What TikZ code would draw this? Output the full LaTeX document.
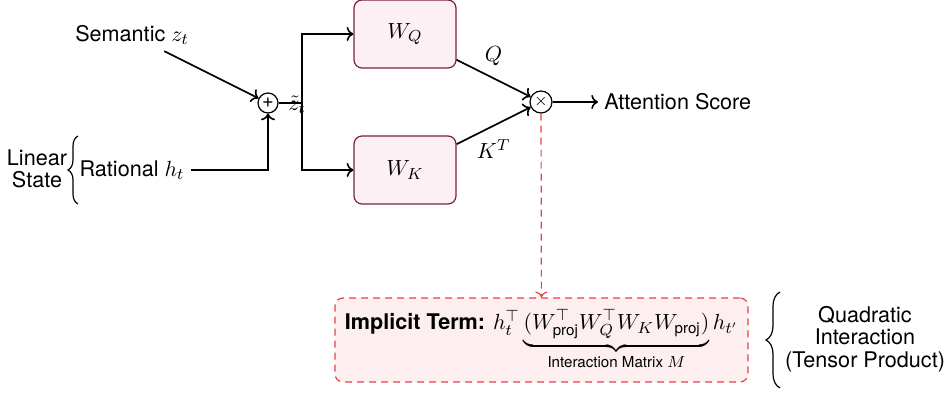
\documentclass[tikz,border=0pt]{standalone}
\usepackage{amsmath}
\usepackage[no-math]{fontspec}
\setmainfont{TeX Gyre Heros}
\usetikzlibrary{decorations.pathreplacing,arrows.meta}

\definecolor{wfill}{HTML}{FCF0F4}
\definecolor{wdraw}{HTML}{7E1E44}
\definecolor{implfill}{HTML}{FDEFEF}
\definecolor{impldraw}{HTML}{E8414A}

\tikzset{
  flow/.style={thick,->},
  wbox/.style={draw=wdraw,fill=wfill,line width=0.6pt,rounded corners=4pt,
               minimum width=51pt,minimum height=34pt,inner sep=0pt},
  opcirc/.style={draw,circle,line width=0.6pt,inner sep=0pt},
  implbox/.style={draw=impldraw,fill=implfill,line width=0.6pt,rounded corners=4pt,
                  dash pattern=on 3.5pt off 2.5pt,minimum width=206.5pt,minimum height=42pt,
                  inner sep=0pt},
  curly/.style={decorate,decoration={brace,amplitude=#1},line width=0.6pt},
  plain/.style={inner sep=3pt},
}

\begin{document}
\begin{tikzpicture}[x=0.5pt,y=-0.5pt,font=\fontsize{10.8}{11.3}\selectfont]
\useasboundingbox (0,0) rectangle (949,394);

% inputs
\node[plain] (sem) at (132,35) {Semantic $z_t$};
\node[plain] (rat) at (132,170) {Rational $h_t$};
\node[plain,align=center] (lin) at (37,169) {Linear\\State};
\draw[curly=5pt] (78,204) -- (78,136);

% sum and split
\node[opcirc,minimum size=10pt,font=\fontsize{10}{10}\selectfont] (plus) at (268,103) {+};
\coordinate (split) at (302,103);

% projections
\node[wbox] (wq) at (405,34) {$W_Q$};
\node[wbox] (wk) at (405,170) {$W_K$};

% product and output
\node[opcirc,minimum size=11pt,font=\fontsize{8}{8}\selectfont] (times) at (541,102) {$\times$};
\node[plain,anchor=west] (att) at (598,102) {Attention Score};

% implicit term
\node[implbox] (impl) at (541.5,340) {\textbf{Implicit Term:} $h_t^\top \underbrace{(W_{\text{proj}}^\top W_Q^\top W_K W_{\text{proj}})}_{\text{Interaction Matrix $M$}} h_{t'}$};

\node[plain,align=center] (quad) at (865,339) {Quadratic\\Interaction\\(Tensor Product)};
\draw[curly=7pt] (780,388) -- (780,292);

% connectors
\draw[flow] (sem) -- (plus);
\draw[flow] (rat) -| (plus);
\draw[thick] (plus) -- (split);
\node[inner sep=0pt] (zt) at (297,105) {$\tilde{z}_t$};
\draw[flow] (split) |- (wq);
\draw[flow] (split) |- (wk);
\draw[flow] (wq) -- (times) node[midway,above=2.5pt] {$Q$};
\draw[flow] (wk) -- (times) node[midway,below=3pt] {$K^T$};
\draw[flow] (times) -- (att);
\draw[->,impldraw,line width=0.6pt,dash pattern=on 3.5pt off 2.5pt] (times) -- (impl);
\end{tikzpicture}
\end{document}
